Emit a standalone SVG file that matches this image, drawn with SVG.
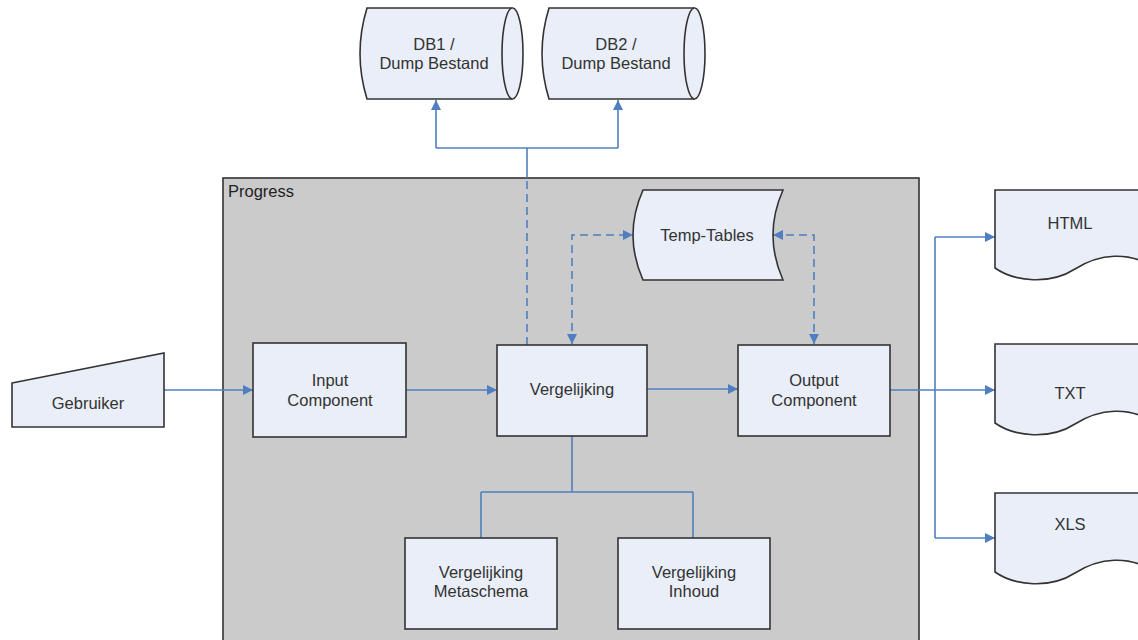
<svg xmlns="http://www.w3.org/2000/svg" width="1138" height="640" viewBox="0 0 1138 640">
  <style>
    .node { fill: #e9eef8; stroke: #333333; stroke-width: 1.6; }
    .label { font-family: "Liberation Sans", Arial, sans-serif; font-size: 16.5px; fill: #333333; text-anchor: middle; }
    .conn { fill: none; stroke: #4f7fc0; stroke-width: 1.6; }
    .dash { stroke-dasharray: 8 5; }
  </style>
  <defs>
    <marker id="arrow" viewBox="0 0 10 10" refX="10" refY="5" markerWidth="12" markerHeight="10" markerUnits="userSpaceOnUse" orient="auto-start-reverse">
      <path d="M0,0 L10,5 L0,10 Z" fill="#4f7fc0"/>
    </marker>
  </defs>

  <rect width="1138" height="640" fill="#ffffff"/>

  <!-- Progress container -->
  <g id="progress">
    <rect x="223" y="178" width="696" height="470" fill="#cbcbcb" stroke="#333333" stroke-width="1.6"/>
    <text x="228" y="197" font-family="'Liberation Sans', Arial, sans-serif" font-size="16.5" fill="#222222">Progress</text>
  </g>

  <!-- Connectors -->
  <g id="connectors">
    <path class="conn" d="M164,390 H253" marker-end="url(#arrow)"/>
    <path class="conn" d="M406,390 H497" marker-end="url(#arrow)"/>
    <path class="conn" d="M647,389 H738" marker-end="url(#arrow)"/>
    <!-- to databases -->
    <path class="conn dash" d="M527,345 V178"/>
    <path class="conn" d="M527,178 V148"/>
    <path class="conn" d="M436,148 H618"/>
    <path class="conn" d="M436,148 V100" marker-end="url(#arrow)"/>
    <path class="conn" d="M618,148 V100" marker-end="url(#arrow)"/>
    <!-- temp tables -->
    <path class="conn dash" d="M572,344 V235 H633" marker-start="url(#arrow)" marker-end="url(#arrow)"/>
    <path class="conn dash" d="M773,235 H814 V344" marker-start="url(#arrow)" marker-end="url(#arrow)"/>
    <!-- outputs -->
    <path class="conn" d="M890,390 H995" marker-end="url(#arrow)"/>
    <path class="conn" d="M935,237 V538"/>
    <path class="conn" d="M935,237 H995" marker-end="url(#arrow)"/>
    <path class="conn" d="M935,538 H995" marker-end="url(#arrow)"/>
    <!-- sub-comparisons -->
    <path class="conn" d="M572,436 V492 M481,492 H693 M481,492 V538 M693,492 V538"/>
  </g>

  <g id="db1">
    <path class="node" d="M367,8 H512.5 A10.5,45.5 0 0 1 512.5,99 H367 Q353,53.5 367,8 Z"/>
    <path class="node" fill="none" d="M512.5,8 A10.5,45.5 0 0 0 512.5,99"/>
    <text class="label" x="434" y="50">DB1 /</text>
    <text class="label" x="434" y="69">Dump Bestand</text>
  </g>

  <g id="db2">
    <path class="node" d="M549,8 H694.5 A10.5,45.5 0 0 1 694.5,99 H549 Q535,53.5 549,8 Z"/>
    <path class="node" fill="none" d="M694.5,8 A10.5,45.5 0 0 0 694.5,99"/>
    <text class="label" x="616" y="50">DB2 /</text>
    <text class="label" x="616" y="69">Dump Bestand</text>
  </g>

  <g id="temp-tables">
    <path class="node" d="M643,190 H783 Q763,235 783,280 H643 Q623,235 643,190 Z"/>
    <text class="label" x="707" y="241">Temp-Tables</text>
  </g>

  <g id="gebruiker">
    <path class="node" d="M12,383 L164,353 V427 H12 Z"/>
    <text class="label" x="88" y="409">Gebruiker</text>
  </g>

  <g id="input-component">
    <rect class="node" x="253" y="343" width="153" height="94"/>
    <text class="label" x="330" y="386">Input</text>
    <text class="label" x="330" y="406">Component</text>
  </g>

  <g id="vergelijking">
    <rect class="node" x="497" y="345" width="150" height="91"/>
    <text class="label" x="572" y="395">Vergelijking</text>
  </g>

  <g id="output-component">
    <rect class="node" x="738" y="345" width="152" height="91"/>
    <text class="label" x="814" y="386">Output</text>
    <text class="label" x="814" y="406">Component</text>
  </g>

  <g id="vergelijking-metaschema">
    <rect class="node" x="405" y="538" width="152" height="91"/>
    <text class="label" x="481" y="578">Vergelijking</text>
    <text class="label" x="481" y="597">Metaschema</text>
  </g>

  <g id="vergelijking-inhoud">
    <rect class="node" x="618" y="538" width="152" height="91"/>
    <text class="label" x="694" y="578">Vergelijking</text>
    <text class="label" x="694" y="597">Inhoud</text>
  </g>

  <g id="html">
    <path class="node" d="M995,190 H1150 V266 C1130,252 1100,253 1075,269 C1050,285 1015,282 995,268 Z"/>
    <text class="label" x="1070" y="229">HTML</text>
  </g>

  <g id="txt">
    <path class="node" d="M995,344 H1150 V421 C1130,407 1100,408 1075,424 C1050,440 1015,437 995,423 Z"/>
    <text class="label" x="1070" y="399">TXT</text>
  </g>

  <g id="xls">
    <path class="node" d="M995,493 H1150 V570 C1130,556 1100,557 1075,573 C1050,589 1015,586 995,572 Z"/>
    <text class="label" x="1070" y="530">XLS</text>
  </g>
</svg>
